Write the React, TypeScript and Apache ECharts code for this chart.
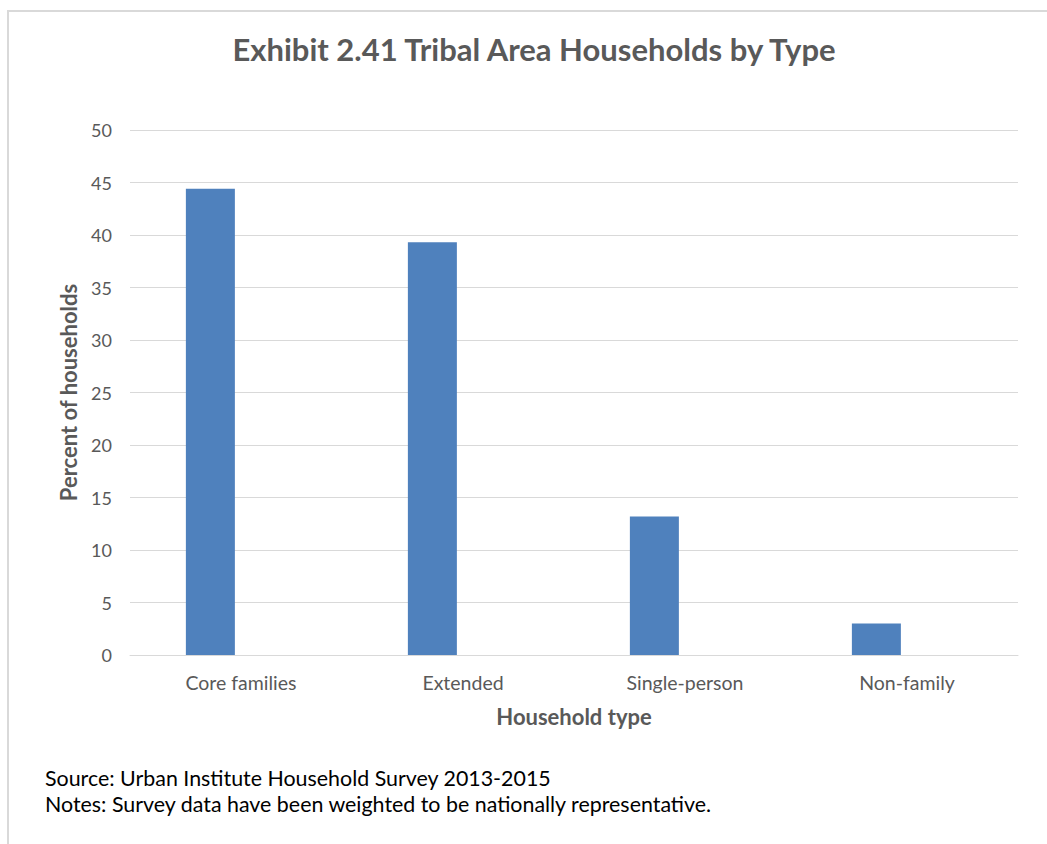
import React, { useEffect, useRef } from "react";
import * as echarts from "echarts";

const categories = ["Core families", "Extended", "Single-person", "Non-family"];
const percentValues = [44.4, 39.3, 13.2, 3.0];
const emptySeries: (number | null)[] = [null, null, null, null];
const yTicks = { min: 0, max: 50, interval: 5 };
const titleText = "Exhibit 2.41 Tribal Area Households by Type";
const yAxisName = "Percent of households";
const xAxisName = "Household type";
const sourceText = "Source: Urban Institute Household Survey 2013-2015";
const notesText = "Notes: Survey data have been weighted to be nationally representative.";

const FONT = "Lato, 'Noto Sans', sans-serif";

export default function App() {
  const ref = useRef<HTMLDivElement>(null);
  useEffect(() => {
    if (!ref.current) return;
    const chart = echarts.init(ref.current, null, { renderer: "svg" });
    chart.setOption({
      animation: false,
      backgroundColor: "#ffffff",
      title: {
        text: titleText,
        left: 529,
        textAlign: "center",
        top: 28,
        textStyle: { fontFamily: FONT, fontSize: 31, fontWeight: "bold", color: "#595959" },
      },
      grid: { left: 130, right: 29, top: 130, bottom: 189, containLabel: false },
      xAxis: {
        type: "category",
        data: categories,
        name: xAxisName,
        nameLocation: "middle",
        nameGap: 50,
        nameTextStyle: { fontFamily: FONT, fontSize: 22, fontWeight: "bold", color: "#595959" },
        axisLine: { show: true, lineStyle: { color: "#d9d9d9", width: 1 } },
        axisTick: { show: false },
        axisLabel: { fontFamily: FONT, fontSize: 19.5, color: "#595959", margin: 17 },
      },
      yAxis: {
        type: "value",
        min: yTicks.min,
        max: yTicks.max,
        interval: yTicks.interval,
        name: yAxisName,
        nameLocation: "middle",
        nameGap: 51,
        nameRotate: 90,
        nameTextStyle: { fontFamily: FONT, fontSize: 22, fontWeight: "bold", color: "#595959" },
        axisLine: { show: false },
        axisTick: { show: false },
        axisLabel: { fontFamily: FONT, fontSize: 18, color: "#595959", margin: 18 },
        splitLine: { lineStyle: { color: "#d9d9d9", width: 1 } },
      },
      series: [
        {
          type: "bar",
          data: percentValues,
          barWidth: 49,
          barGap: "25%",
          itemStyle: { color: "#4f81bd" },
        },
        {
          type: "bar",
          data: emptySeries,
          barWidth: 49,
          barGap: "25%",
          itemStyle: { color: "#c0504d" },
        },
      ],
      graphic: [
        {
          type: "line",
          shape: { x1: 8, y1: 11, x2: 8, y2: 844 },
          style: { stroke: "#d9d9d9", lineWidth: 2 },
        },
        {
          type: "line",
          shape: { x1: 7, y1: 11, x2: 1047, y2: 11 },
          style: { stroke: "#d9d9d9", lineWidth: 2 },
        },
        {
          type: "text",
          left: 45,
          top: 767,
          style: { text: sourceText, fontFamily: FONT, fontSize: 21.4, fill: "#000000" },
        },
        {
          type: "text",
          left: 45,
          top: 793,
          style: { text: notesText, fontFamily: FONT, fontSize: 21.4, fill: "#000000" },
        },
      ],
    });
    return () => chart.dispose();
  }, []);
  return (
    <div
      ref={ref}
      style={{ position: "absolute", left: 0, top: 0, width: 1047, height: 844 }}
    />
  );
}
